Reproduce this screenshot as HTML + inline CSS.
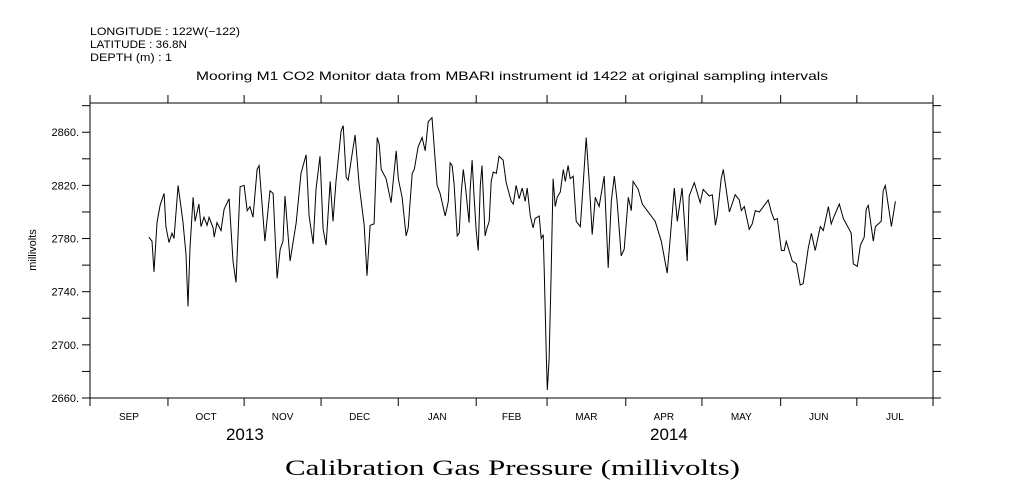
<!DOCTYPE html>
<html><head><meta charset="utf-8">
<style>
html,body{margin:0;padding:0;background:#fff;}
svg{display:block;}
text{font-family:"Liberation Sans",sans-serif;fill:#000;}
</style></head>
<body>
<svg id="chart" width="1009" height="504" viewBox="0 0 1009 504">
<text x="90" y="35" font-size="11" textLength="150" lengthAdjust="spacingAndGlyphs">LONGITUDE : 122W(−122)</text>
<text x="90" y="48" font-size="11" textLength="97" lengthAdjust="spacingAndGlyphs">LATITUDE : 36.8N</text>
<text x="90" y="61" font-size="11" textLength="82" lengthAdjust="spacingAndGlyphs">DEPTH (m) : 1</text>
<text x="196" y="80" font-size="12" textLength="632" lengthAdjust="spacingAndGlyphs">Mooring M1 CO2 Monitor data from MBARI instrument id 1422 at original sampling intervals</text>
<text x="36" y="250" font-size="11" text-anchor="middle" transform="rotate(-90 36 250)">millivolts</text>
<text x="285" y="475" font-size="22" textLength="455" lengthAdjust="spacingAndGlyphs" style="font-family:'Liberation Serif',serif">Calibration Gas Pressure (millivolts)</text>
<g id="axes"></g>
<g id="series"></g>
</svg>
<script>
const days=[23.2,24.4,25.2,26.4,27.6,29.2,29.9,31.1,32.3,33.1,34.7,36.6,37.8,38.6,39.4,40.6,41.4,42.9,43.7,44.9,46.1,46.9,48.5,48.9,50.0,51.6,52.8,54.8,56.3,57.5,59.1,60.7,61.9,63.0,64.2,65.8,66.6,68.9,70.9,72.1,73.7,74.9,76.0,76.8,78.8,81.2,83.1,85.1,86.3,87.9,89.0,90.6,91.8,93.0,94.6,95.7,96.9,98.9,99.7,100.9,101.7,103.2,104.4,106.0,108.0,109.1,110.3,111.9,113.1,113.9,114.7,116.6,118.6,120.6,121.4,122.9,124.5,125.3,126.9,127.7,129.2,130.8,132.0,133.2,134.7,136.7,137.9,139.9,141.1,141.8,142.6,143.4,144.6,145.4,146.2,147.0,147.8,149.3,149.7,150.5,151.3,152.1,152.9,153.7,154.4,155.6,156.4,157.2,158.0,158.8,160.0,161.1,162.7,163.9,165.9,166.7,167.8,169.0,170.2,171.4,172.2,173.4,174.5,175.3,176.9,177.7,178.5,178.9,179.7,180.1,180.8,181.6,182.4,183.2,184.0,185.2,186.4,187.2,188.3,189.1,190.3,191.5,193.1,194.2,195.4,196.6,197.8,199.0,200.5,202.5,204.1,205.3,206.5,207.6,209.2,210.4,212.0,213.2,213.9,215.9,217.5,222.6,225.0,227.3,228.5,230.1,231.3,233.2,235.2,236.0,238.0,240.3,241.5,243.9,245.1,246.3,247.0,248.6,249.4,251.8,254.1,255.7,256.5,257.7,259.6,260.8,262.0,263.6,265.2,267.1,268.3,269.5,270.7,272.3,273.4,274.2,276.6,278.2,279.7,280.9,282.9,284.1,285.6,287.6,288.8,290.8,291.9,293.1,295.1,296.7,299.8,300.6,302.2,303.4,304.9,305.7,306.5,308.5,309.3,311.6,312.4,313.2,315.6,317.2];
const values=[2781,2778,2755,2792,2805,2814,2789,2777,2784,2780,2820,2793,2768,2729,2773,2811,2793,2806,2789,2796,2790,2796,2788,2781,2792,2786,2802,2810,2763,2747,2819,2820,2801,2804,2796,2832,2835,2778,2816,2814,2750,2772,2778,2812,2763,2792,2829,2843,2797,2776,2817,2842,2787,2775,2823,2793,2823,2861,2865,2826,2824,2843,2858,2820,2790,2752,2790,2791,2856,2851,2832,2825,2807,2846,2825,2811,2782,2788,2829,2832,2849,2856,2846,2868,2871,2820,2814,2797,2808,2837,2835,2821,2782,2784,2814,2832,2820,2792,2816,2839,2810,2786,2771,2820,2835,2782,2788,2793,2823,2830,2829,2842,2839,2822,2808,2806,2820,2810,2818,2808,2818,2797,2788,2795,2797,2780,2783,2754,2692,2666,2689,2752,2825,2804,2811,2815,2832,2823,2835,2825,2827,2793,2789,2820,2856,2823,2783,2811,2804,2827,2758,2808,2827,2808,2767,2772,2811,2801,2823,2817,2806,2793,2778,2754,2780,2818,2793,2818,2763,2812,2822,2807,2817,2812,2813,2790,2797,2825,2832,2800,2813,2809,2801,2804,2787,2791,2801,2800,2804,2809,2800,2794,2795,2771,2771,2778,2763,2761,2745,2746,2773,2784,2771,2789,2786,2804,2791,2797,2806,2795,2784,2761,2759,2775,2781,2802,2805,2778,2789,2793,2816,2820,2789,2808];
const yTicks=[2660,2680,2700,2720,2740,2760,2780,2800,2820,2840,2860,2880];
const yLabels=["2660.","","2700.","","2740.","","2780.","","2820.","","2860.",""];
const monthStarts=[0,30.7,60.7,91,121.4,152.1,180,211,241,272,302,332];
const monthNames=["SEP","OCT","NOV","DEC","JAN","FEB","MAR","APR","MAY","JUN","JUL"];
const years=["2013","2014"];
const yearDays=[61,228];

const X0=90,X1=933,Y0=398,Y1=103;
const xs=d=>X0+(d/332)*(X1-X0);
const ys=v=>Y0-(v-2660)/(2882-2660)*(Y0-Y1);
const NS="http://www.w3.org/2000/svg";
const axes=document.getElementById('axes');
const ser=document.getElementById('series');
function mk(tag,attrs,parent){const e=document.createElementNS(NS,tag);for(const k in attrs)e.setAttribute(k,attrs[k]);parent.appendChild(e);return e;}

const frame=mk('rect',{x:X0,y:Y1,width:X1-X0,height:Y0-Y1,fill:'none',stroke:'#000','stroke-width':1},axes);



yTicks.forEach((v,i)=>{
  const y=ys(v);
  if(y<Y1-0.5)return;
  const t1=mk('line',{x1:X0-8,x2:X0,y1:y,y2:y,stroke:'#000'},axes);
  
  
  const t2=mk('line',{x1:X1,x2:X1+8,y1:y,y2:y,stroke:'#000'},axes);
  
  
  if(yLabels[i]){
    const tx=mk('text',{x:X0-11,y:y+4,'font-size':11,'text-anchor':'end'},axes);
    tx.textContent=yLabels[i];
    
    
  }
});
monthStarts.forEach(d=>{
  const x=xs(d);
  const b=mk('line',{x1:x,x2:x,y1:Y0,y2:Y0+8,stroke:'#000'},axes);
  
  
  const t=mk('line',{x1:x,x2:x,y1:Y1-8,y2:Y1,stroke:'#000'},axes);
  
  
});
monthNames.forEach((m,i)=>{
  const x=(xs(monthStarts[i])+xs(monthStarts[i+1]))/2;
  const tx=mk('text',{x:x,y:420,'font-size':10,'text-anchor':'middle'},axes);
  tx.textContent=m;
  
  
});
years.forEach((yr,i)=>{
  const tx=mk('text',{x:xs(yearDays[i]),y:440,'font-size':17,'text-anchor':'middle'},axes);
  tx.textContent=yr;
  
  
});
const pts=days.map((d,i)=>xs(d).toFixed(1)+','+ys(values[i]).toFixed(1)).join(' ');
const line=mk('polyline',{points:pts,fill:'none',stroke:'#000','stroke-width':1},ser);


</script>
</body></html>
